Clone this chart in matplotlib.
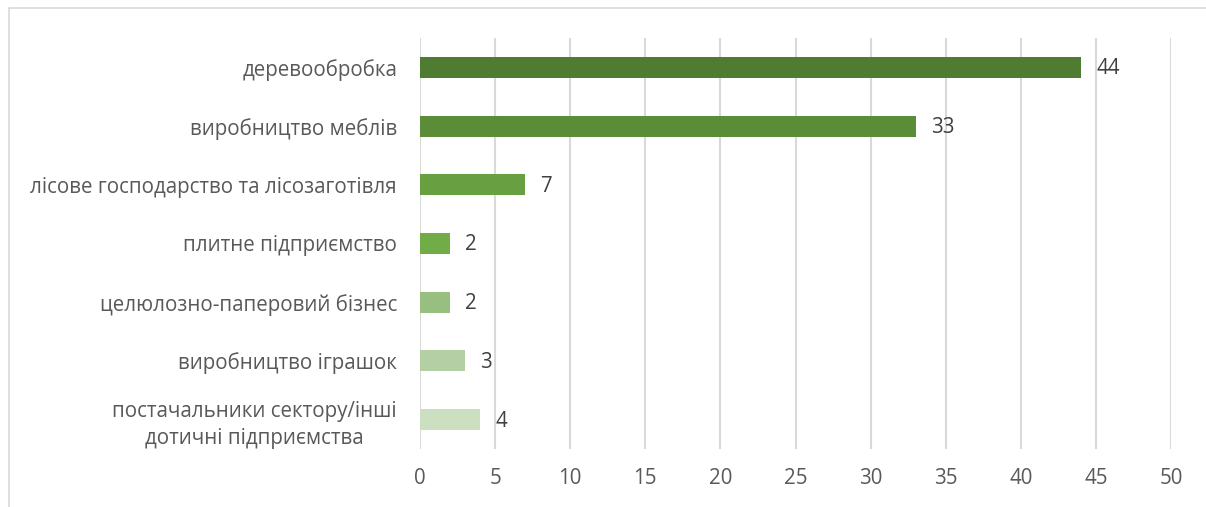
import matplotlib.pyplot as plt
from matplotlib.patches import Rectangle

# categories (top to bottom) and counts
categories = [
    "деревообробка",
    "виробництво меблів",
    "лісове господарство та лісозаготівля",
    "плитне підприємство",
    "целюлозно-паперовий бізнес",
    "виробництво іграшок",
    "постачальники сектору/інші\nдотичні підприємства",
]
counts = [44, 33, 7, 2, 2, 3, 4]
bar_colors = ["#507C31", "#5B8D39", "#68A041", "#70AD47", "#97BF7F", "#B4CFA3", "#CCDFC1"]
x_ticks = [0, 5, 10, 15, 20, 25, 30, 35, 40, 45, 50]

plt.rcParams['font.family'] = ['Open Sans', 'DejaVu Sans']
text_color = "#595959"
fs = 14.8

fig = plt.figure(figsize=(12.06, 5.07), dpi=100)
fig.patches.append(Rectangle((9 / 1206, -0.1), 1.2, 1 - 8 / 507 + 0.1,
                             transform=fig.transFigure, fill=False,
                             edgecolor="#D9D9D9", linewidth=1.2))

ax = fig.add_axes([420 / 1206, 1 - 449 / 507, 751 / 1206, 411 / 507])

ypos = list(range(len(categories)))
ax.barh(ypos, counts, height=0.36, color=bar_colors, zorder=3)

for y, v in zip(ypos, counts):
    ax.annotate(str(v), (v, y), xytext=(11, -1), textcoords="offset points",
                va="center", ha="left", fontsize=fs, color="#404040")

ax.set_xlim(0, 50)
ax.set_ylim(len(categories) - 0.5, -0.5)
ax.set_xticks(x_ticks)
ax.set_yticks(ypos)
ax.set_yticklabels(categories, fontsize=fs, color=text_color, linespacing=1.35)
for lbl in ax.get_yticklabels():
    lbl.set_multialignment("center")
ax.tick_params(axis="x", labelsize=fs, labelcolor=text_color, length=0, pad=14)
ax.tick_params(axis="y", length=0, pad=16.5)

ax.grid(axis="x", color="#D9D9D9", linewidth=1.5, zorder=0)
for side in ["top", "right", "bottom", "left"]:
    ax.spines[side].set_visible(False)

fig.savefig("out.png", dpi=100)
